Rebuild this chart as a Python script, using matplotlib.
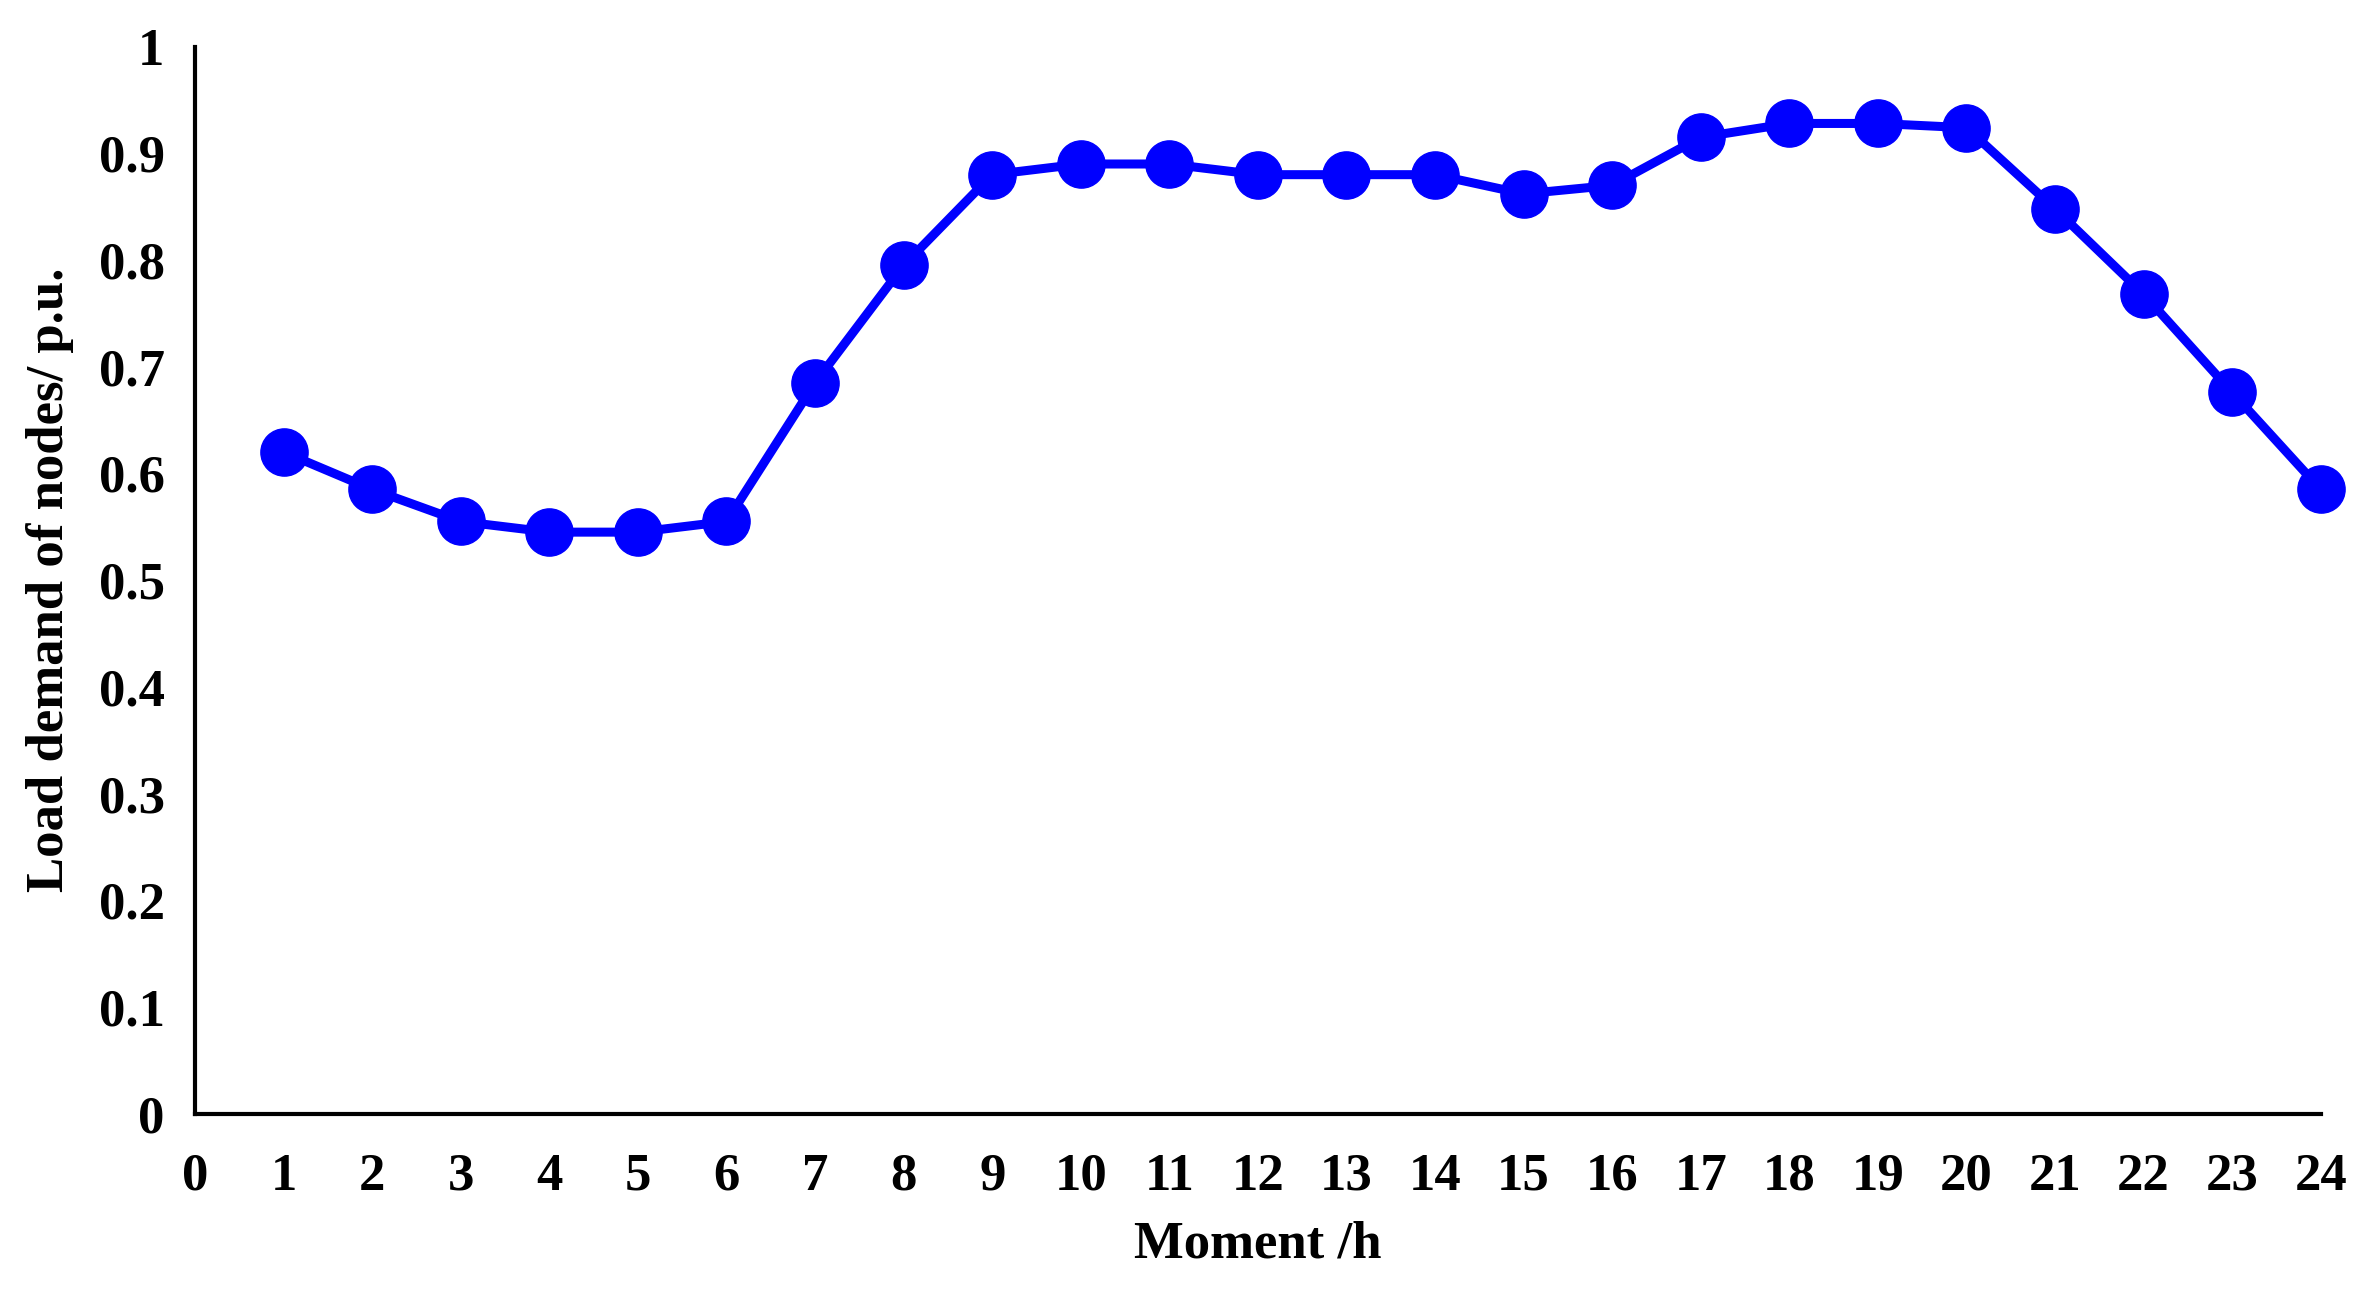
import matplotlib.pyplot as plt

hours = list(range(1, 25))
load = [0.62, 0.585, 0.555, 0.545, 0.545, 0.555, 0.685, 0.795, 0.88, 0.89, 0.89, 0.88,
        0.88, 0.88, 0.862, 0.87, 0.915, 0.928, 0.928, 0.924, 0.848, 0.768, 0.676, 0.585]

plt.rcParams['font.family'] = ['Liberation Serif', 'DejaVu Serif']
plt.rcParams['font.weight'] = 'bold'

fig = plt.figure(figsize=(23.79, 12.95), dpi=100)
ax = fig.add_axes([0.082, 0.14, 0.8935, 0.824])
ax.plot(hours, load, color='#0000ff', linewidth=6.5, marker='o', markersize=34)

ax.set_xlim(0, 24)
ax.set_ylim(0, 1)
ax.set_xticks(range(0, 25))
ax.set_yticks([i / 10 for i in range(11)])
ax.set_yticklabels(['0'] + [f'{i/10:g}' for i in range(1, 10)] + ['1'])
ax.tick_params(axis='y', length=0, labelsize=38, pad=22)
ax.tick_params(axis='x', length=0, labelsize=38, pad=28)
for lab in ax.get_xticklabels() + ax.get_yticklabels():
    lab.set_fontweight('bold')
ax.spines['top'].set_visible(False)
ax.spines['right'].set_visible(False)
ax.spines['left'].set_linewidth(3)
ax.spines['bottom'].set_linewidth(3)
for line in ax.lines:
    line.set_clip_on(False)

ax.set_xlabel('Moment /h', fontsize=38, fontweight='bold', labelpad=14)
ax.set_ylabel('Load demand of nodes/ p.u.', fontsize=38, fontweight='bold', labelpad=18)

fig.savefig('out.png')
